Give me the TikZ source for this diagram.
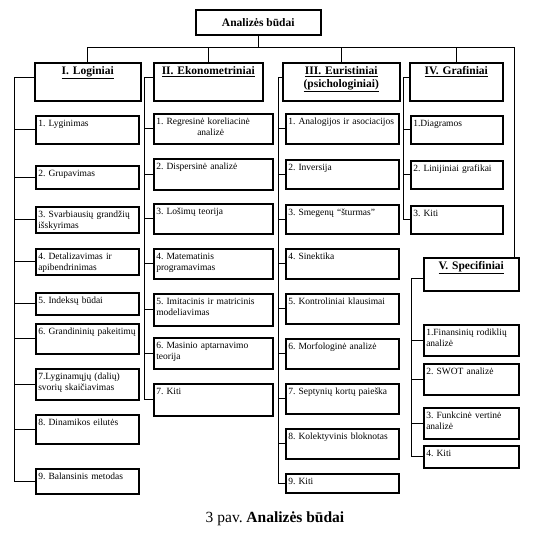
\documentclass[tikz,border=0pt]{standalone}
\usepackage{fontspec}
\setmainfont{Liberation Serif}
\usetikzlibrary{positioning,calc}
\frenchspacing

\begin{document}
\begin{tikzpicture}[x=1pt, y=-1pt,
    link/.style={line width=0.7pt},
    frame/.style={draw, line width=1.5pt, anchor=north west},
    head/.style={frame, align=center, inner sep=3pt, text height=9pt,
                 font=\fontsize{11.5}{13}\selectfont\bfseries,
                 /utils/exec={\pgfmathsetlengthmacro\boxdepth{#1-15}},
                 text depth=\boxdepth},
    item/.style={frame, align=left, inner sep=2.5pt, text height=8pt,
                 font=\fontsize{9.5}{11.5}\selectfont,
                 /utils/exec={\pgfmathsetlengthmacro\boxdepth{#1-13}},
                 text depth=\boxdepth},
    colI/.style={item=#1, text width=98pt},
    colII/.style={item=#1, text width=114pt},
    colIII/.style={item=#1, text width=108pt},
    colIV/.style={item=#1, text width=87pt},
    colV/.style={item=#1, text width=90pt}
  ]
  \useasboundingbox (0,0) rectangle (535,533);

  % top and the five groups
  \node[frame, minimum width=125pt, minimum height=25pt, inner sep=0pt,
        font=\fontsize{11.5}{13}\selectfont\bfseries] (budai) at (195,9) {Analizės būdai};
  \node[head=38, text width=100pt] (logi) at (34,62) {\underline{I. Loginiai}};
  \node[head=38, text width=103pt] (ekon) at (153,62) {\underline{II. Ekonometriniai}};
  \node[head=38, text width=111pt] (euri) at (282,62) {\underline{III. Euristiniai}\\\underline{(psichologiniai)}};
  \node[head=38, text width=87pt] (graf) at (409,62) {\underline{IV. Grafiniai}};
  \node[head=33, text width=89pt] (spec) at (423,257) {\underline{V. Specifiniai}};

  % I. Loginiai
  \node[colI=28] (log1) at (35,115) {1. Lyginimas};
  \node[colI=23] (log2) at (35,165) {2. Grupavimas};
  \node[colI=26] (log3) at (35,206) {3. Svarbiausių grandžių\\išskyrimas};
  \node[colI=26] (log4) at (35,248) {4. Detalizavimas ir\\apibendrinimas};
  \node[colI=22] (log5) at (35,292) {5. Indeksų būdai};
  \node[colI=30] (log6) at (35,323) {6. Grandininių pakeitimų};
  \node[colI=31] (log7) at (35,368) {7.Lyginamųjų (dalių)\\svorių skaičiavimas};
  \node[colI=29] (log8) at (35,414) {8. Dinamikos eilutės};
  \node[colI=25] (log9) at (35,468) {9. Balansinis metodas};

  % II. Ekonometriniai
  \node[colII=30] (eko1) at (153,113) {1. Regresinė koreliacinė\\\hspace*{41pt}analizė};
  \node[colII=31] (eko2) at (153,158) {2. Dispersinė analizė};
  \node[colII=30] (eko3) at (153,203) {3. Lošimų teorija};
  \node[colII=30] (eko4) at (153,248) {4. Matematinis\\programavimas};
  \node[colII=32] (eko5) at (153,293) {5. Imitacinis ir matricinis\\modeliavimas};
  \node[colII=31] (eko6) at (153,337) {6. Masinio aptarnavimo\\teorija};
  \node[colII=32] (eko7) at (153,383) {7. Kiti};

  % III. Euristiniai
  \node[colIII=30] (eur1) at (285,113) {1. Analogijos ir asociacijos};
  \node[colIII=29] (eur2) at (285,159) {2. Inversija};
  \node[colIII=29] (eur3) at (285,204) {3. Smegenų “šturmas”};
  \node[colIII=30] (eur4) at (285,248) {4. Sinektika};
  \node[colIII=30] (eur5) at (285,293) {5. Kontroliniai klausimai};
  \node[colIII=30] (eur6) at (285,338) {6. Morfologinė analizė};
  \node[colIII=30] (eur7) at (285,383) {7. Septynių kortų paieška};
  \node[colIII=30] (eur8) at (285,428) {8. Kolektyvinis bloknotas};
  \node[colIII=19] (eur9) at (285,473) {9. Kiti};

  % IV. Grafiniai
  \node[colIV=28] (gra1) at (410,115) {1.Diagramos};
  \node[colIV=28] (gra2) at (410,160) {2. Linijiniai grafikai};
  \node[colIV=28] (gra3) at (410,205) {3. Kiti};

  % V. Specifiniai
  \node[colV=31] (spe1) at (423,324) {1.Finansinių rodiklių\\analizė};
  \node[colV=31] (spe2) at (423,363) {2. SWOT analizė};
  \node[colV=31] (spe3) at (423,407) {3. Funkcinė vertinė\\analizė};
  \node[colV=22] (spe4) at (423,445) {4. Kiti};

  \node[font=\fontsize{15.5}{17}\selectfont] (cap) at (275,519) {3 pav. \textbf{Analizės būdai}};

  % tree lines
  \coordinate (bar) at (257,47);
  \coordinate (rt) at (514,47);
  \draw[link] (budai.south) -- (budai.south |- bar);
  \draw[link] (logi.north |- bar) -- (rt) -- (rt |- spec.north);
  \foreach \h in {logi,ekon,euri,graf}
    \draw[link] (\h.north) -- (\h.north |- bar);

  % side buses
  \coordinate (bI) at (14,77);
  \coordinate (bII) at (144,77);
  \coordinate (bIII) at (278,77);
  \coordinate (bIV) at (403,77);
  \coordinate (bV) at (411,278);
  \draw[link] (logi.west |- bI) -- (bI) |- (log9.west);
  \foreach \k in {1,...,8}
    \draw[link] (bI |- log\k.west) -- (log\k.west);
  \draw[link] (ekon.west |- bII) -- (bII) |- (eko7.west);
  \foreach \k in {1,...,6}
    \draw[link] (bII |- eko\k.west) -- (eko\k.west);
  \draw[link] (euri.west |- bIII) -- (bIII) |- (eur9.west);
  \foreach \k in {1,...,8}
    \draw[link] (bIII |- eur\k.west) -- (eur\k.west);
  \draw[link] (graf.west |- bIV) -- (bIV) |- (gra3.west);
  \foreach \k in {1,2}
    \draw[link] (bIV |- gra\k.west) -- (gra\k.west);
  \draw[link] (spec.west |- bV) -- (bV) |- (spe4.west);
  \foreach \k in {1,2,3}
    \draw[link] (bV |- spe\k.west) -- (spe\k.west);
\end{tikzpicture}
\end{document}
